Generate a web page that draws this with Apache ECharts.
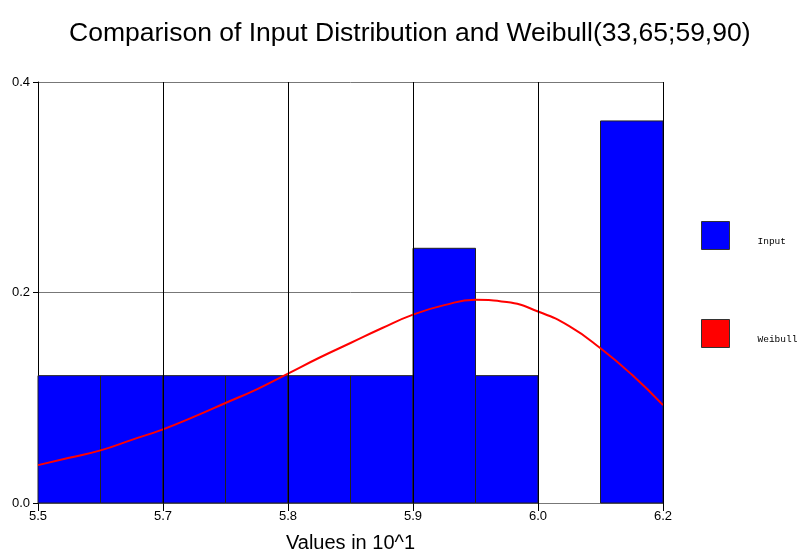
<!DOCTYPE html>
<html>
<head>
<meta charset="utf-8">
<script src="https://cdn.jsdelivr.net/npm/echarts@6/dist/echarts.min.js"></script>
<style>
    html, body { margin: 0; padding: 0; background: #fff; }
    #chart { width: 798px; height: 554px; }
</style>
</head>
<body>
<div id="chart"></div>
<script>
    // histogram bins (start, end) and heights
    var binStarts = [5.5, 5.57, 5.64, 5.71, 5.78, 5.85, 5.92, 5.99, 6.06, 6.13];
    var binEnds = [5.57, 5.64, 5.71, 5.78, 5.85, 5.92, 5.99, 6.06, 6.13, 6.2];
    var binValues = [0.121, 0.121, 0.121, 0.121, 0.121, 0.121, 0.242, 0.121, 0, 0.363];

    // fitted weibull curve
    var curveX = [5.5, 5.535, 5.57, 5.605, 5.64, 5.675, 5.71, 5.745, 5.78, 5.815, 5.85,
        5.885, 5.92, 5.955, 5.99, 6.025, 6.06, 6.095, 6.13, 6.165, 6.2];
    var curveY = [0.036, 0.043, 0.050, 0.060, 0.070, 0.082, 0.095, 0.108, 0.123, 0.138, 0.152,
        0.166, 0.179, 0.188, 0.193, 0.191, 0.182, 0.168, 0.147, 0.122, 0.093];

    // x axis ticks and their printed labels
    var tickValues = [5.5, 5.64, 5.78, 5.92, 6.06, 6.2];
    var tickLabels = ['5.5', '5.7', '5.8', '5.9', '6.0', '6.2'];

    var barData = [];
    for (var i = 0; i < binStarts.length; i++) {
        barData.push([binStarts[i], binEnds[i], binValues[i]]);
    }
    var lineData = [];
    for (var j = 0; j < curveX.length; j++) {
        lineData.push([curveX[j], curveY[j]]);
    }
    var gridLines = [];
    for (var k = 1; k < tickValues.length; k++) {
        gridLines.push({xAxis: tickValues[k]});
    }

    var myChart = echarts.init(document.getElementById('chart'));
    var option = {
        animation: false,
        title: {
            text: 'Comparison of Input Distribution and Weibull(33,65;59,90)',
            left: 64,
            top: 15,
            textStyle: {
                fontFamily: 'Liberation Sans',
                fontSize: 26.5,
                fontWeight: 'normal',
                color: '#000'
            }
        },
        legend: {
            orient: 'vertical',
            left: 701,
            top: 221,
            padding: 0,
            itemWidth: 28,
            itemHeight: 28,
            itemGap: 69,
            data: [
                {name: 'Input', icon: 'rect', itemStyle: {color: '#0000ff', borderColor: '#333', borderWidth: 1}},
                {name: 'Weibull', icon: 'rect', itemStyle: {color: '#ff0000', borderColor: '#333', borderWidth: 1}}
            ],
            formatter: function (name) {
                return '{t|' + name + '}';
            },
            textStyle: {
                color: '#000',
                rich: {
                    t: {
                        fontFamily: 'Liberation Mono',
                        fontSize: 9.5,
                        color: '#000',
                        padding: [12, 0, 0, 23]
                    }
                }
            }
        },
        grid: {
            left: 38,
            right: 135,
            top: 82,
            bottom: 51,
            outerBoundsMode: 'none'
        },
        xAxis: {
            type: 'value',
            min: 5.5,
            max: 6.2,
            name: 'Values in 10^1',
            nameLocation: 'middle',
            nameGap: 30,
            nameTextStyle: {fontFamily: 'Liberation Sans', fontSize: 20, color: '#000'},
            axisLine: {lineStyle: {color: '#777', width: 1}},
            axisTick: {show: true, customValues: tickValues, length: 8, lineStyle: {color: '#000'}},
            axisLabel: {
                customValues: tickValues,
                margin: 7,
                fontFamily: 'Liberation Sans',
                fontSize: 13,
                color: '#000',
                formatter: function (v) {
                    var best = 0;
                    for (var n = 0; n < tickValues.length; n++) {
                        if (Math.abs(tickValues[n] - v) < Math.abs(tickValues[best] - v)) best = n;
                    }
                    return tickLabels[best];
                }
            },
            splitLine: {show: false}
        },
        yAxis: {
            type: 'value',
            min: 0,
            max: 0.4,
            interval: 0.2,
            axisLine: {show: true, lineStyle: {color: '#000', width: 1}},
            axisTick: {show: true, length: 5, lineStyle: {color: '#000'}},
            axisLabel: {
                margin: 8,
                fontFamily: 'Liberation Sans',
                fontSize: 13,
                color: '#000',
                formatter: function (v) { return v.toFixed(1); }
            },
            splitLine: {show: true, lineStyle: {color: '#777', width: 1}}
        },
        series: [
            {
                name: 'Input',
                type: 'custom',
                z: 2,
                itemStyle: {color: '#0000ff'},
                encode: {x: [0, 1], y: 2},
                data: barData,
                renderItem: function (params, api) {
                    var v = api.value(2);
                    if (!v) return null;
                    var p0 = api.coord([api.value(0), v]);
                    var p1 = api.coord([api.value(1), 0]);
                    return {
                        type: 'rect',
                        shape: {x: p0[0], y: p0[1], width: p1[0] - p0[0], height: p1[1] - p0[1]},
                        style: {fill: '#0000ff', stroke: '#222', lineWidth: 1}
                    };
                }
            },
            {
                name: 'Weibull',
                type: 'line',
                z: 3,
                smooth: 0.5,
                showSymbol: false,
                symbol: 'none',
                itemStyle: {color: '#ff0000'},
                lineStyle: {color: '#ff0000', width: 2},
                data: lineData,
                markLine: {
                    silent: true,
                    symbol: ['none', 'none'],
                    label: {show: false},
                    lineStyle: {color: '#000', width: 1, type: 'solid'},
                    data: gridLines
                }
            }
        ]
    };
    myChart.setOption(option);
</script>
</body>
</html>
